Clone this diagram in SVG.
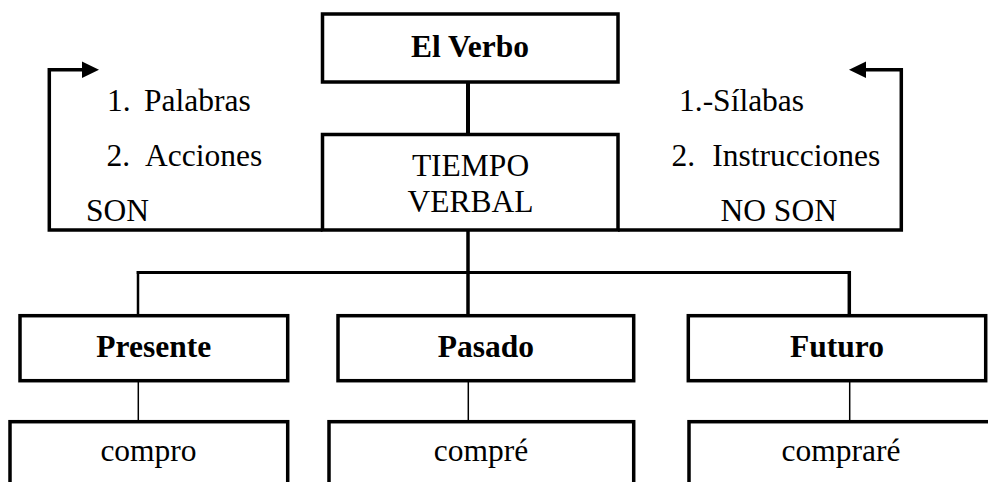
<svg xmlns="http://www.w3.org/2000/svg" width="988" height="482" viewBox="0 0 988 482">
  <style>
    .box { fill: #ffffff; stroke: #000000; stroke-width: 3.5; }
    .t { font-family: 'Liberation Serif', 'Times New Roman', Times, 'DejaVu Serif', serif; font-size: 31.5px; fill: #000000; }
    .b { font-weight: bold; }
    .mid { text-anchor: middle; }
    .ln { fill: none; stroke: #000000; stroke-linejoin: miter; stroke-linecap: butt; }
  </style>
  <defs>
    <marker id="arrow" markerUnits="userSpaceOnUse" markerWidth="18" markerHeight="18" refX="0" refY="8.3" orient="auto">
      <path d="M0,0 L17,8.3 L0,16.6 Z" fill="#000000"/>
    </marker>
  </defs>
  <rect width="988" height="482" fill="#ffffff"/>

  <g id="connectors">
    <line class="ln" x1="468" y1="82" x2="468" y2="134.5" stroke-width="4"/>
    <line class="ln" x1="468" y1="230" x2="468" y2="315.7" stroke-width="3.5"/>
    <line class="ln" x1="136.7" y1="272.5" x2="851" y2="272.5" stroke-width="3"/>
    <line class="ln" x1="138" y1="271" x2="138" y2="315.7" stroke-width="2.5"/>
    <line class="ln" x1="849.3" y1="271" x2="849.3" y2="315.7" stroke-width="3.5"/>
    <line class="ln" x1="138.3" y1="380.7" x2="138.3" y2="421.7" stroke-width="1.5"/>
    <line class="ln" x1="468.3" y1="380.7" x2="468.3" y2="421.7" stroke-width="1.5"/>
    <line class="ln" x1="849.7" y1="380.7" x2="849.7" y2="421.7" stroke-width="1.5"/>
    <path class="ln" d="M322.5,230 H49.3 V69.7 H82" stroke-width="3.5" marker-end="url(#arrow)"/>
    <path class="ln" d="M618,230 H901.3 V69.7 H866" stroke-width="3.5" marker-end="url(#arrow)"/>
  </g>

  <g id="elverbo">
    <rect class="box" x="322.5" y="14" width="295.5" height="68"/>
    <text class="t b mid" x="470" y="57" font-family="Liberation Serif, serif">El Verbo</text>
  </g>
  <g id="tiempo">
    <rect class="box" x="322.5" y="134.5" width="295.5" height="95.5"/>
    <text class="t mid" x="470.5" y="176">TIEMPO</text>
    <text class="t mid" x="470.5" y="212">VERBAL</text>
  </g>

  <g id="son-labels">
    <text class="t" x="107" y="111"><tspan>1.</tspan><tspan x="144">Palabras</tspan></text>
    <text class="t" x="106.5" y="166"><tspan>2.</tspan><tspan x="145">Acciones</tspan></text>
    <text class="t" x="86" y="221">SON</text>
  </g>
  <g id="noson-labels">
    <text class="t" x="679" y="110.5">1.-Sílabas</text>
    <text class="t" x="671.5" y="166"><tspan>2.</tspan><tspan x="712.3">Instrucciones</tspan></text>
    <text class="t" x="720.5" y="221">NO SON</text>
  </g>

  <g id="presente">
    <rect class="box" x="20" y="315.7" width="267.7" height="65"/>
    <text class="t b mid" x="153.8" y="357">Presente</text>
  </g>
  <g id="pasado">
    <rect class="box" x="338" y="315.7" width="295.7" height="65"/>
    <text class="t b mid" x="485.8" y="357">Pasado</text>
  </g>
  <g id="futuro">
    <rect class="box" x="688.3" y="315.7" width="297.4" height="65"/>
    <text class="t b mid" x="837" y="357">Futuro</text>
  </g>

  <g id="compro">
    <rect class="box" x="10" y="421.7" width="277.7" height="90"/>
    <text class="t mid" x="148.5" y="461">compro</text>
  </g>
  <g id="compre">
    <rect class="box" x="329" y="421.7" width="304.7" height="90"/>
    <text class="t mid" x="481" y="461">compré</text>
  </g>
  <g id="comprare">
    <rect class="box" x="689" y="421.7" width="304" height="90"/>
    <text class="t mid" x="841" y="461">compraré</text>
  </g>
</svg>
